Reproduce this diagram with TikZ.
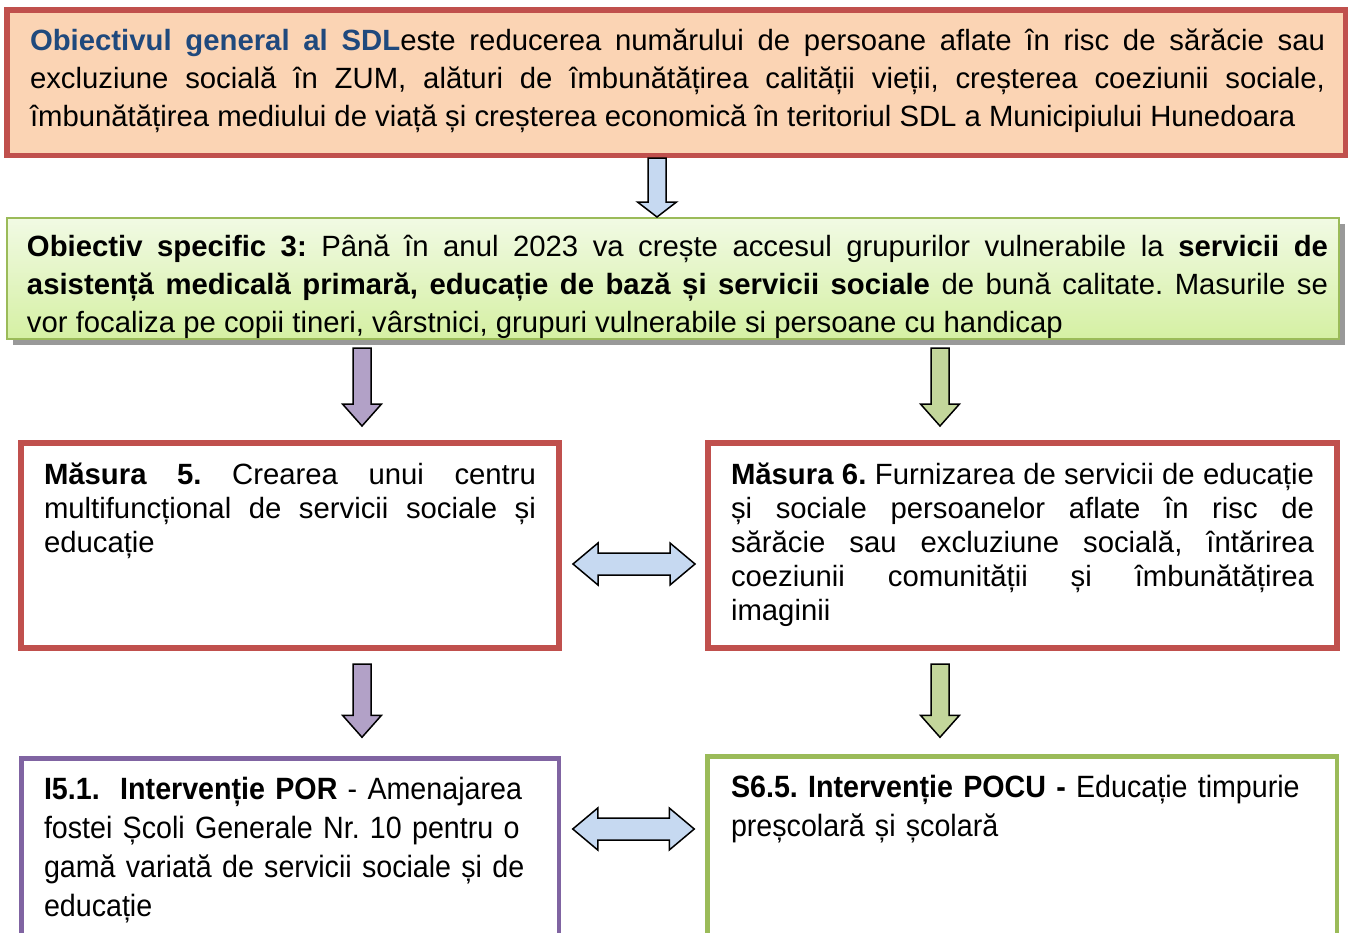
\documentclass[tikz,border=0pt]{standalone}
\usepackage{fontspec}
\setmainfont{Liberation Sans}
\newfontfamily\narrowfont{Liberation Sans}[FakeStretch=0.93]
\usetikzlibrary{calc,shadows}
\definecolor{boxred}{HTML}{C0504D}
\definecolor{peach}{HTML}{FBD4B4}
\definecolor{titleblue}{HTML}{1F497D}
\definecolor{paleblue}{HTML}{C6D9F1}
\definecolor{leafgreen}{HTML}{9BBB59}
\definecolor{greentop}{HTML}{F1FAE4}
\definecolor{greenbottom}{HTML}{D5F0A3}
\definecolor{lilac}{HTML}{B2A1C7}
\definecolor{boxviolet}{HTML}{8064A2}
\definecolor{sage}{HTML}{C3D69B}
\tikzset{head length/.store in=\headlen, head length=22pt}
\frenchspacing
\begin{document}
\begin{tikzpicture}[x=1pt,y=-1pt]
    \tikzstyle{every node}+=[inner sep=0pt, outer sep=0pt]
    \tikzstyle{box}=[draw, rectangle, anchor=north west]
    \tikzstyle{words}=[anchor=base west, align=justify, font=\fontsize{29.3}{34}\selectfont]
    \tikzstyle{downarrow}=[draw=black, line width=1.5pt, to path={let \p1=(\tikztostart), \p2=(\tikztotarget) in (\x1-9pt,\y1) -- (\x1+9pt,\y1) -- (\x1+9pt,\y2+\headlen) -- (\x1+19.5pt,\y2+\headlen) -- (\x2,\y2) -- (\x1-19.5pt,\y2+\headlen) -- (\x1-9pt,\y2+\headlen) -- cycle}]
    \tikzstyle{bothways}=[draw=black, line width=1.5pt, fill=paleblue, to path={let \p1=(\tikztostart), \p2=(\tikztotarget) in (\x1,\y1) -- (\x1+25pt,\y1+21pt) -- (\x1+25pt,\y1+11pt) -- (\x2-25pt,\y1+11pt) -- (\x2-25pt,\y1+21pt) -- (\x2,\y1) -- (\x2-25pt,\y1-21pt) -- (\x2-25pt,\y1-11pt) -- (\x1+25pt,\y1-11pt) -- (\x1+25pt,\y1-21pt) -- cycle}]
    \useasboundingbox (0,0) rectangle (1349,932);
    \clip (0,0) rectangle (1349,932);
    \coordinate (cA) at (657,0);
    \coordinate (cL) at (362,0);
    \coordinate (cR) at (940,0);
    \coordinate (r1) at (0,564);
    \coordinate (r2) at (0,829);
    \node [box, draw=boxred, fill=peach, line width=5.5pt, minimum width=1338.5pt, minimum height=145.5pt] (obg) at (6.75,9.75) {};
    \node [words, font=\fontsize{29.3}{38}\selectfont, text width=1295pt] (obgtext) at (30,50.5) {\textcolor{titleblue}{\bfseries Obiectivul general al SDL}este reducerea numărului de persoane aflate în risc de sărăcie sau\linebreak excluziune socială în ZUM, alături de îmbunătățirea calității vieții, creșterea coeziunii sociale,\linebreak îmbunătățirea mediului de viață și creșterea economică în teritoriul SDL a Municipiului Hunedoara};
    \node [box, draw=leafgreen, line width=2pt, top color=greentop, bottom color=greenbottom, drop shadow={shadow xshift=6pt, shadow yshift=-6pt, fill=black!40, opacity=1}, minimum width=1332pt, minimum height=121pt] (spec) at (7,218) {};
    \node [words, font=\fontsize{29.3}{38}\selectfont, text width=1301pt] (spectext) at (27,256) {\textbf{Obiectiv specific 3:} Până în anul 2023 va crește accesul grupurilor vulnerabile la \textbf{servicii de}\linebreak \textbf{asistență medicală primară, educație de bază și servicii sociale} de bună calitate. Masurile se\linebreak vor focaliza pe copii tineri, vârstnici, grupuri vulnerabile si persoane cu handicap};
    \node [box, draw=boxred, line width=6pt, minimum width=538pt, minimum height=205pt] (m5) at (21,443) {};
    \node [words, text width=492pt] (m5text) at (44,484) {\textbf{Măsura 5.} Crearea unui centru\linebreak multifuncțional de servicii sociale și\linebreak educație};
    \node [box, draw=boxred, line width=6pt, minimum width=629pt, minimum height=205pt] (m6) at (708,443) {};
    \node [words, text width=583pt] (m6text) at (731,484) {\textbf{Măsura 6.} Furnizarea de servicii de educație\linebreak și sociale persoanelor aflate în risc de\linebreak sărăcie sau excluziune socială, întărirea\linebreak coeziunii comunității și îmbunătățirea\linebreak imaginii};
    \node [box, draw=boxviolet, line width=4.5pt, minimum width=537.5pt, minimum height=220pt] (i51) at (21.25,758.25) {};
    \node [words, align=left, text width=510pt, font=\narrowfont\fontsize{30.8}{39}\selectfont] (i51text) at (44,799) {\textbf{I5.1.\ \ Intervenție POR} - Amenajarea\\ fostei Școli Generale Nr. 10 pentru o\\ gamă variată de servicii sociale și de\\ educație};
    \node [box, draw=leafgreen, line width=4.5pt, minimum width=629.5pt, minimum height=220pt] (s65) at (707.25,756.25) {};
    \node [words, align=left, text width=590pt, font=\narrowfont\fontsize{30.8}{39}\selectfont] (s65text) at (731,797) {\textbf{S6.5. Intervenție POCU -} Educație timpurie\\ preșcolară și școlară};
    \draw [downarrow, head length=15pt, fill=paleblue] ($(obg.south -| cA)+(0,2.75)$) to ($(spec.north -| cA)+(0,-1)$);
    \draw [downarrow, fill=lilac] ($(spec.south -| cL)+(0,9)$) to ($(m5.north -| cL)+(0,-17)$);
    \draw [downarrow, fill=sage] ($(spec.south -| cR)+(0,9)$) to ($(m6.north -| cR)+(0,-17)$);
    \draw [downarrow, fill=lilac] ($(m5.south -| cL)+(0,16)$) to ($(i51.north -| cL)+(0,-21)$);
    \draw [downarrow, fill=sage] ($(m6.south -| cR)+(0,16)$) to ($(s65.north -| cR)+(0,-19)$);
    \draw [bothways] ($(m5.east |- r1)+(14,0)$) to ($(m6.west |- r1)+(-13,0)$);
    \draw [bothways] ($(i51.east |- r2)+(14,0)$) to ($(s65.west |- r2)+(-13,0)$);
\end{tikzpicture}
\end{document}
